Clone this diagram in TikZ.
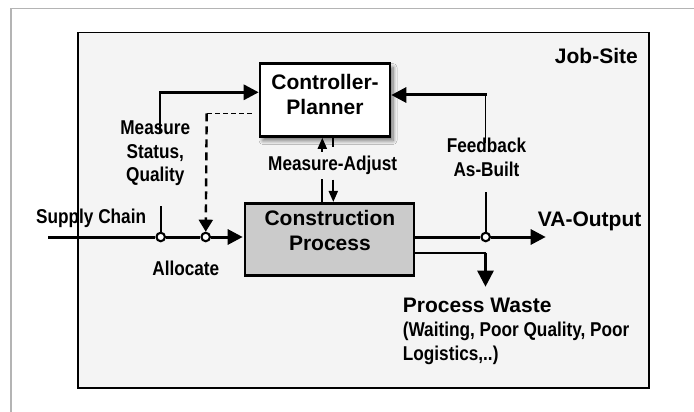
\documentclass[tikz,border=0pt]{standalone}
\usepackage{fontspec}
\setmainfont{Liberation Sans}
\newfontfamily\narrowbold{Liberation Sans Bold}[FakeStretch=0.86]
\usetikzlibrary{arrows.meta,shadows.blur}

\definecolor{sitegray}{HTML}{F4F4F4}
\definecolor{consgray}{HTML}{CBCBCB}
\definecolor{framegray}{HTML}{B4B4B4}

\tikzset{
  bigtext/.style={font=\fontsize{21}{25}\selectfont\bfseries, inner sep=0pt, align=center},
  smalltext/.style={font=\narrowbold\fontsize{20}{23.5}\selectfont, inner sep=0pt, align=center},
  sitebox/.style={draw=black, line width=1.5pt, fill=sitegray, inner sep=0pt},
  ctrlbox/.style={draw=black, line width=2.6pt, fill=white, inner sep=0pt,
    blur shadow={shadow xshift=3pt, shadow yshift=-4pt, shadow blur radius=4pt,
                 shadow blur steps=8, shadow opacity=55}},
  consbox/.style={draw=black, line width=2.6pt, fill=consgray, inner sep=0pt},
  junction/.style={circle, draw=black, fill=white, line width=2.1pt,
    minimum size=8.5pt, inner sep=0pt},
  flow/.style={line width=3pt},
  flowarrow/.style={flow, -{Triangle[length=15pt,width=15pt]}},
  tap/.style={line width=1.8pt},
  smallflow/.style={line width=2pt, -{Triangle[length=11pt,width=9pt]}},
  dashfeed/.style={line width=2.4pt, dash pattern=on 8pt off 5pt},
  dashthin/.style={line width=1.3pt, dash pattern=on 5pt off 3pt},
}

\begin{document}
\begin{tikzpicture}[x=1pt,y=-1pt]
  % page and outer frame
  \fill[white] (0,0) rectangle (694,412);
  \useasboundingbox (0,0) rectangle (694,412);
  \draw[framegray, line width=1.5pt] (11,420) -- (11,8.5) -- (700,8.5);

  % job-site area
  \node[sitebox, minimum width=571pt, minimum height=355pt] (site) at (363.25,210.25) {};
  \node[bigtext, anchor=base east] (sitelabel) at (638,63.3) {Job-Site};

  % main boxes
  \node[ctrlbox, minimum width=130pt, minimum height=73pt] (ctrl) at (325,100) {};
  \node[bigtext] (ctrltxt) at (325,94.9) {Controller-\\Planner};
  \node[consbox, minimum width=169pt, minimum height=72.5pt] (cons) at (329.5,239.5) {};
  \node[bigtext] (constxt) at (329.9,230.2) {Construction\\Process};

  % junctions on the flow lines
  \node[junction] (c1) at (160.7,237) {};
  \node[junction] (c2) at (205.7,237) {};
  \node[junction] (c3) at (485.7,237) {};

  % helper points
  \coordinate (sc) at (48.3,237);
  \coordinate (m1) at (160.7,206);
  \coordinate (m2) at (160.2,133);
  \coordinate (mtop) at (160.2,92.3);
  \coordinate (dtop) at (206.7,113.3);
  \coordinate (ma1) at (322.3,179.3);
  \coordinate (ma2) at (322.3,151.5);
  \coordinate (md1) at (333.3,149);
  \coordinate (md2) at (333.3,179.5);
  \coordinate (fb1) at (485.7,191.7);
  \coordinate (fb2) at (485.5,143);
  \coordinate (fbtop) at (485.5,95);
  \coordinate (vaend) at (545.7,237);
  \coordinate (wcorner) at (485.5,252.7);
  \coordinate (wend) at (485.5,286.7);

  % supply chain into the process
  \draw[flow] (sc) -- (c1);
  \draw[flow] (c1) -- (c2);
  \draw[flowarrow, shorten >=1pt] (c2) -- (c2 -| cons.west);

  % measurement of status and quality
  \draw[tap] (c1) -- (m1);
  \draw[tap] (m2) -- (mtop);
  \draw[flowarrow, line cap=rect] (mtop) -- (mtop -| ctrl.west);

  % allocation from the planner
  \draw[dashthin, shorten <=7pt] (ctrl.west |- dtop) -- (dtop);
  \draw[dashfeed, -{Triangle[length=12pt,width=14pt]}] (dtop) -- (c2);

  % measure / adjust between planner and process
  \draw[line width=2pt] (ma1 |- cons.north) -- (ma1);
  \draw[smallflow] (ma2) -- (ma2 |- ctrl.south);
  \draw[line width=2pt, dash pattern=on 9pt off 3pt] (md1 |- ctrl.south) -- (md1);
  \draw[smallflow] (md2) -- (md2 |- cons.north);

  % output and as-built feedback
  \draw[flow] (cons.east |- c3) -- (c3);
  \draw[flowarrow] (c3) -- (vaend);
  \draw[tap] (c3) -- (fb1);
  \draw[tap] (fb2) -- (fbtop);
  \draw[flowarrow, line cap=rect] (fbtop) -- (fbtop -| ctrl.east);

  % process waste
  \draw[line width=2pt] (cons.east |- wcorner) -- (wcorner);
  \draw[line width=2.7pt, -{Triangle[length=16pt,width=16pt]}] (wcorner) -- (wend);

  % labels
  \node[smalltext] (msq) at (155.3,153.5) {Measure\\Status,\\Quality};
  \node[smalltext, anchor=base] (ma) at (332.7,170.7) {Measure-Adjust};
  \node[smalltext] (fb) at (486.5,157.4) {Feedback\\As-Built};
  \node[smalltext, anchor=base west] (scl) at (36,223.3) {Supply Chain};
  \node[smalltext, anchor=base] (al) at (185.8,275.3) {Allocate};
  \node[bigtext, anchor=base west] (va) at (537.7,226) {VA-Output};
  \node[bigtext, anchor=base west] (pw) at (402.7,312.7) {Process Waste};
  \node[smalltext, align=left, anchor=west] (pwd) at (402.7,343.5)
    {(Waiting, Poor Quality, Poor\\Logistics,..)};
\end{tikzpicture}
\end{document}
